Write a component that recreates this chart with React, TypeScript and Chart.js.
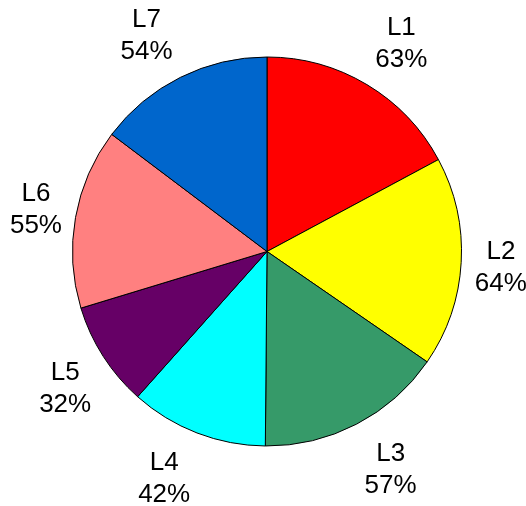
import React, { useEffect, useRef } from "react";
import { Chart, registerables } from "chart.js";

Chart.register(...registerables);

const categories = ["L1", "L2", "L3", "L4", "L5", "L6", "L7"];
const values = [63, 64, 57, 42, 32, 55, 54];
const percentLabels = ["63%", "64%", "57%", "42%", "32%", "55%", "54%"];
const colors = ["#FF0000", "#FFFF00", "#369A69", "#00FFFF", "#660066", "#FF8080", "#0066CC"];

const labelPlugin = {
  id: "outsideLabels",
  afterDraw(chart: any) {
    const ctx = chart.ctx;
    const meta = chart.getDatasetMeta(0);
    ctx.save();
    ctx.font = '26px "Liberation Sans", Arial, sans-serif';
    ctx.fillStyle = "#000000";
    ctx.textAlign = "center";
    ctx.textBaseline = "alphabetic";
    meta.data.forEach((arc: any, i: number) => {
      const { x, y, startAngle, endAngle, outerRadius } = arc.getProps(
        ["x", "y", "startAngle", "endAngle", "outerRadius"],
        true
      );
      const mid = (startAngle + endAngle) / 2;
      const dx = Math.cos(mid);
      const dy = Math.sin(mid);
      const rd = outerRadius * 1.055;
      const fy = Math.sign(dy) * Math.min(1, Math.abs(dy) * 1.35);
      const cx = x + dx * rd + Math.sign(dx) * 29;
      const cy = y + dy * rd + fy * 34;
      ctx.fillText(categories[i], cx, cy - 6.5);
      ctx.fillText(percentLabels[i], cx, cy + 25.5);
    });
    ctx.restore();
  },
};

export default function App() {
  const ref = useRef<HTMLCanvasElement | null>(null);
  useEffect(() => {
    if (!ref.current) return;
    const chart = new Chart(ref.current, {
      type: "pie",
      data: {
        labels: categories,
        datasets: [
          {
            data: values,
            backgroundColor: colors,
            borderColor: "#000000",
            borderWidth: 1,
          },
        ],
      },
      options: {
        responsive: false,
        animation: false,
        layout: { padding: { left: 72, right: 64, top: 56, bottom: 59 } },
        plugins: {
          legend: { display: false },
          tooltip: { enabled: false },
        },
      },
      plugins: [labelPlugin],
    });
    return () => chart.destroy();
  }, []);
  return (
    <div style={{ position: "fixed", left: 0, top: 0, width: 526, height: 506, background: "#fff" }}>
      <canvas ref={ref} width={526} height={506} />
    </div>
  );
}
